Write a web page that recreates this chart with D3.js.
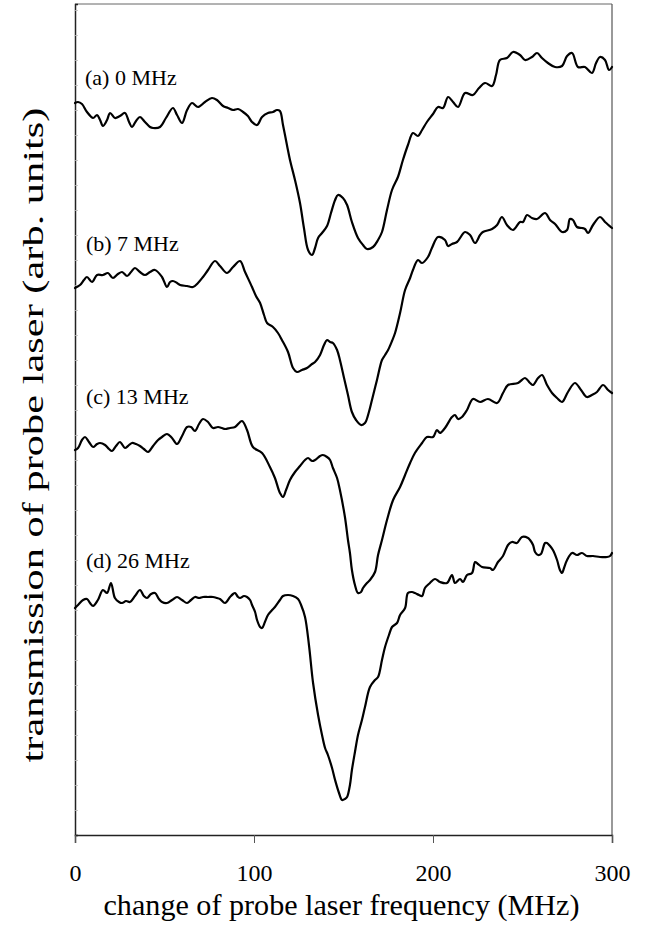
<!DOCTYPE html>
<html>
<head>
<meta charset="utf-8">
<script src="https://cdn.jsdelivr.net/npm/d3@7"></script>
<style>
  html, body { margin: 0; padding: 0; background: #fff; }
  svg { display: block; }
  text { font-family: "Liberation Serif", "Times New Roman", serif; fill: #000; }
</style>
</head>
<body>
<svg id="chart" width="652" height="939"></svg>
<script>
// Probe transmission spectra, [frequency change (MHz), transmission (arb. units)]
const traceA = [
  [0,75.7],[1.7,75.8],[3.9,75.6],[6.7,74.8],[10.1,74.2],[12.3,74.5],[14.0,74.0],[15.6,73.4],
  [17.9,74.0],[19.6,74.7],[22.3,74.2],[25.1,74.4],[27.9,74.7],[30.2,73.8],[31.8,73.3],[34.1,73.9],
  [36.3,74.3],[39.1,73.8],[41.9,73.3],[43.6,73.2],[47.5,73.3],[50.8,74.2],[54.7,75.2],[57.0,74.5],
  [59.8,73.7],[62.6,75.0],[65.4,75.7],[68.7,75.3],[72.6,75.8],[76.5,76.2],[79.3,76.0],[82.7,75.4],
  [85.5,75.2],[88.3,75.0],[91.1,75.1],[93.9,74.8],[96.6,74.4],[98.9,73.8],[101.7,73.5],[104.5,74.3],
  [107.8,74.7],[110.6,74.8],[112.8,75.0],[114.5,74.9],[116.2,73.5],[118.4,71.5],[120.1,70.0],
  [122.9,68.0],[125.7,65.7],[127.9,63.2],[130.2,61.0],[132.4,60.5],[134.1,61.2],[135.8,62.2],
  [138.0,62.7],[140.8,63.4],[143.0,64.7],[145.3,66.0],[146.9,66.5],[149.7,66.2],[152.0,65.5],
  [154.7,63.8],[158.1,62.2],[160.9,61.5],[163.1,61.1],[166.5,61.3],[169.3,62.0],[171.5,62.8],
  [174.3,65.0],[177.1,67.0],[180.4,68.3],[183.2,70.0],[186.0,71.5],[188.8,72.7],[191.6,72.4],
  [193.9,73.0],[196.6,73.8],[200.0,74.6],[202.8,75.3],[205.6,75.2],[208.4,76.3],[211.2,75.8],
  [214.0,75.3],[217.9,76.7],[222.3,76.5],[225.7,77.2],[229.1,77.7],[233.0,77.4],[235.2,78.5],
  [237.4,80.0],[241.3,80.2],[244.7,80.8],[248.6,80.5],[251.4,80.0],[255.3,80.3],[258.1,80.7],
  [260.9,80.2],[264.2,79.7],[268.2,79.3],[272.1,79.4],[274.9,80.4],[277.7,80.7],[281.0,79.3],
  [284.9,79.3],[288.8,78.7],[291.1,79.7],[293.3,80.3],[296.1,80.0],[298.3,79.0],[300,79.3]
];
const traceB = [
  [0,57.2],[2.8,57.5],[5.0,58.0],[6.7,58.3],[9.5,57.8],[12.3,58.5],[15.6,58.5],[18.4,58.7],
  [21.2,58.2],[24.0,58.6],[26.3,58.8],[29.1,58.4],[31.3,58.8],[33.5,59.2],[36.3,58.8],[39.1,58.5],
  [41.9,58.8],[44.7,59.0],[48.6,58.3],[51.4,57.3],[53.1,57.8],[54.7,57.9],[57.0,57.7],[58.7,57.5],
  [62.6,57.4],[65.9,57.3],[68.7,57.7],[71.5,58.3],[74.3,59.0],[78.2,59.9],[81.0,59.4],[84.9,58.7],
  [88.3,59.3],[92.2,59.9],[95.0,58.8],[98.9,57.3],[101.1,56.4],[103.4,55.7],[105.6,54.5],
  [107.3,53.7],[110.6,53.3],[113.4,52.7],[115.6,52.0],[119.0,50.8],[121.8,49.2],[124.0,48.8],
  [126.8,49.0],[129.6,49.2],[132.4,49.6],[134.1,49.8],[136.9,50.5],[139.1,51.5],[140.8,52.0],
  [142.5,51.8],[144.1,51.7],[146.4,51.0],[148.0,50.0],[150.3,48.2],[152.5,46.5],[154.7,44.8],
  [157.0,44.0],[159.8,43.5],[162.0,43.7],[164.2,44.8],[165.9,46.0],[168.7,48.0],[171.5,50.0],
  [173.2,50.5],[174.9,51.0],[177.1,51.9],[178.8,52.7],[181.6,54.7],[184.4,57.0],[187.2,58.2],
  [188.8,59.0],[191.6,60.0],[193.9,59.7],[197.2,60.3],[199.4,61.2],[202.8,62.3],[206.7,62.0],
  [208.4,61.4],[210.6,61.6],[213.4,61.8],[217.9,62.8],[220.7,62.5],[223.5,61.7],[226.3,62.5],
  [227.9,62.8],[233.0,63.1],[235.8,63.5],[238.5,64.3],[241.3,63.5],[244.7,63.0],[248.6,63.8],
  [250.3,63.8],[252.5,64.5],[255.3,64.2],[258.1,64.1],[262.6,64.7],[265.4,64.0],[268.2,63.6],
  [272.1,62.8],[274.9,63.0],[276.5,64.1],[278.2,64.0],[280.4,63.3],[283.2,63.2],[284.9,63.1],
  [286.6,62.7],[289.4,63.5],[293.3,64.3],[296.1,63.8],[300,63.2]
];
const traceC = [
  [0,41.0],[1.7,41.2],[3.9,42.0],[5.6,42.3],[7.8,41.8],[10.1,41.3],[12.3,41.6],[14.0,41.7],
  [16.8,41.5],[19.0,41.1],[20.7,40.9],[22.9,41.4],[25.1,41.8],[27.9,41.2],[29.6,41.4],[31.8,41.7],
  [34.1,41.6],[36.3,41.4],[38.5,41.1],[40.8,40.8],[43.6,41.4],[46.4,42.0],[48.6,42.3],[51.4,42.6],
  [54.2,42.2],[57.0,41.6],[59.8,42.4],[62.6,43.3],[64.8,43.3],[67.0,42.9],[69.3,43.6],[71.5,44.1],
  [74.3,43.8],[77.1,43.2],[79.9,43.3],[82.1,43.2],[83.8,43.1],[86.6,43.2],[89.4,43.3],[93.3,43.9],
  [96.1,43.0],[99.4,41.3],[104.5,40.7],[108.9,39.3],[111.7,38.2],[114.5,36.7],[116.2,36.3],
  [117.9,37.0],[120.1,38.0],[122.9,38.8],[125.7,39.4],[128.5,40.0],[130.2,40.2],[132.4,39.9],
  [134.1,40.0],[136.9,40.4],[138.5,40.5],[140.8,40.3],[142.5,40.0],[144.1,39.2],[146.4,38.2],
  [148.0,37.0],[150.8,34.3],[152.5,32.0],[153.6,30.7],[154.7,29.0],[156.4,27.5],[158.1,26.7],
  [159.8,26.8],[160.9,27.2],[163.1,27.7],[164.8,28.0],[167.6,28.8],[169.3,30.5],[171.5,32.0],
  [174.3,34.0],[177.7,36.0],[181.6,37.3],[184.4,38.5],[187.2,39.7],[189.9,40.7],[193.9,41.7],
  [196.6,42.3],[200.0,42.3],[202.2,43.0],[203.9,42.7],[206.7,43.2],[210.6,44.3],[212.3,44.5],
  [214.0,44.1],[216.2,44.3],[219.0,45.0],[222.3,46.1],[226.3,45.8],[230.7,46.1],[235.8,45.7],
  [239.1,46.7],[241.9,47.5],[247.5,47.7],[251.4,48.2],[254.2,47.7],[255.9,47.5],[258.7,48.2],
  [260.9,48.5],[263.7,47.5],[266.5,46.7],[269.3,46.2],[272.1,45.8],[275.4,46.8],[279.3,47.7],
  [282.7,47.0],[286.0,46.3],[288.8,46.5],[291.6,46.8],[295.0,47.5],[297.8,47.0],[300,46.7]
];
const traceD = [
  [0,25.2],[1.7,25.5],[4.5,26.0],[6.7,26.1],[8.4,25.7],[10.1,25.4],[12.8,26.0],[15.6,27.0],
  [17.9,26.7],[20.1,27.7],[22.3,26.2],[24.6,25.8],[26.3,25.7],[28.5,25.9],[30.7,25.8],[33.5,26.4],
  [36.3,27.0],[38.5,26.4],[40.2,26.2],[42.5,26.6],[44.7,26.7],[46.9,26.1],[48.6,25.8],[51.4,25.7],
  [54.2,26.0],[57.0,26.3],[59.8,26.0],[62.6,25.7],[64.8,26.0],[67.0,26.3],[69.3,26.2],[71.5,26.3],
  [74.3,26.3],[77.1,26.3],[79.3,26.2],[81.0,26.1],[83.8,25.7],[86.6,26.3],[88.3,26.6],[89.4,26.7],
  [91.1,26.3],[92.2,26.2],[94.4,26.4],[96.1,26.3],[97.8,26.0],[98.9,25.5],[100.6,24.8],[101.7,24.0],
  [103.4,23.3],[104.5,23.2],[106.1,23.8],[107.8,24.5],[110.1,25.0],[111.7,25.3],[114.5,26.0],
  [116.2,26.4],[119.0,26.5],[121.8,26.4],[124.6,26.1],[126.3,25.5],[128.5,24.3],[130.7,21.5],
  [133.0,17.7],[135.8,14.5],[138.0,12.5],[139.7,11.2],[141.3,10.5],[143.6,9.2],[145.3,8.0],
  [147.5,6.7],[149.2,6.0],[150.8,6.1],[152.0,6.3],[153.6,7.5],[154.7,9.0],[156.4,10.8],[158.1,12.5],
  [160.3,14.0],[162.0,15.3],[164.8,17.3],[167.6,18.0],[169.3,18.3],[171.5,20.0],[173.2,21.3],
  [175.4,22.5],[177.1,23.3],[179.9,23.7],[181.6,24.5],[184.4,25.2],[186.0,26.7],[188.3,26.8],
  [189.9,26.7],[192.2,26.5],[193.9,26.4],[195.5,27.2],[198.3,27.7],[201.1,28.1],[203.9,27.8],
  [207.8,27.7],[210.6,28.5],[212.3,27.7],[215.1,28.1],[216.8,27.8],[219.0,28.5],[221.8,28.7],
  [223.5,29.8],[225.1,29.6],[227.4,29.3],[231.8,29.2],[233.5,29.0],[236.3,29.8],[239.1,30.4],
  [241.9,31.5],[244.1,31.8],[246.9,31.7],[249.7,32.3],[253.1,32.2],[254.2,32.0],[255.9,31.5],
  [257.0,30.8],[258.7,30.5],[260.3,30.6],[262.6,31.7],[263.7,31.7],[265.4,31.4],[267.0,31.0],
  [269.3,30.0],[270.9,29.0],[272.1,28.7],[273.2,29.2],[274.9,30.0],[277.7,30.7],[280.4,30.5],
  [283.2,30.7],[286.0,30.4],[289.4,30.4],[293.3,30.3],[297.2,30.3],[298.9,30.4],[300,30.7]
];

// Curve labels (pump detuning) and where each label sits, in data units
const traceLabels = ["(a) 0 MHz", "(b) 7 MHz", "(c) 13 MHz", "(d) 26 MHz"];
const labelFreq = [5.6, 6.1, 6.1, 6.1];
const labelValue = [77.5, 60.9, 45.6, 29.2];

const xTicks = [0, 100, 200, 300];
const xDomain = [0, 300];
const yDomain = [2.5, 85.6];

const svg = d3.select("#chart");
const plot = { left: 75, right: 612, top: 4, bottom: 835 };

const x = d3.scaleLinear().domain(xDomain).range([plot.left, plot.right]);
const y = d3.scaleLinear().domain(yDomain).range([plot.bottom, plot.top]);

// frame: thin grey top/right edges
svg.append("line").attr("x1", plot.left).attr("x2", plot.right)
  .attr("y1", plot.top).attr("y2", plot.top)
  .attr("stroke", "#666").attr("stroke-width", 1);
svg.append("line").attr("x1", plot.right).attr("x2", plot.right)
  .attr("y1", plot.top).attr("y2", plot.bottom)
  .attr("stroke", "#555").attr("stroke-width", 1.2);

// left axis: faint inward ticks, no labels
const yAxis = d3.axisLeft(y).tickValues(d3.range(5, 85.6, 2.5)).tickSize(-3).tickFormat("");
const gy = svg.append("g").attr("transform", `translate(${plot.left},0)`).call(yAxis);
gy.select(".domain").attr("stroke", "#222").attr("stroke-width", 1.5);
gy.selectAll(".tick line").attr("stroke", "#bbb").attr("stroke-width", 0.8);

// bottom axis
const xAxis = d3.axisBottom(x).tickValues(xTicks).tickSize(8).tickPadding(21).tickFormat(d3.format("d"));
const gx = svg.append("g").attr("transform", `translate(0,${plot.bottom})`).call(xAxis);
gx.select(".domain").attr("stroke", "#222").attr("stroke-width", 1.5);
gx.selectAll(".tick line").attr("stroke", "#555").attr("stroke-width", 1);
gx.selectAll(".tick text")
  .style("font-family", '"Liberation Serif", "Times New Roman", serif')
  .style("font-size", "24px").attr("fill", "#000");

// spectra
const line = d3.line()
  .x(d => x(d[0]))
  .y(d => y(d[1]))
  .curve(d3.curveCatmullRom.alpha(0.5));

[traceA, traceB, traceC, traceD].forEach(tr => {
  svg.append("path")
    .datum(tr)
    .attr("d", line)
    .attr("fill", "none")
    .attr("stroke", "#000")
    .attr("stroke-width", 2.2)
    .attr("stroke-linejoin", "round")
    .attr("stroke-linecap", "round");
});

// curve labels
traceLabels.forEach((t, i) => {
  svg.append("text")
    .attr("x", x(labelFreq[i]))
    .attr("y", y(labelValue[i]))
    .style("font-size", "22px")
    .text(t);
});

// axis titles
svg.append("text")
  .attr("x", (plot.left + plot.right) / 2 - 2)
  .attr("y", 915)
  .attr("text-anchor", "middle")
  .attr("textLength", 476)
  .attr("lengthAdjust", "spacingAndGlyphs")
  .style("font-size", "30px")
  .text("change of probe laser frequency (MHz)");

svg.append("text")
  .attr("transform", "translate(43,435) rotate(-90)")
  .attr("text-anchor", "middle")
  .attr("textLength", 655)
  .attr("lengthAdjust", "spacingAndGlyphs")
  .style("font-size", "30px")
  .text("transmission of probe laser (arb. units)");
</script>
</body>
</html>
